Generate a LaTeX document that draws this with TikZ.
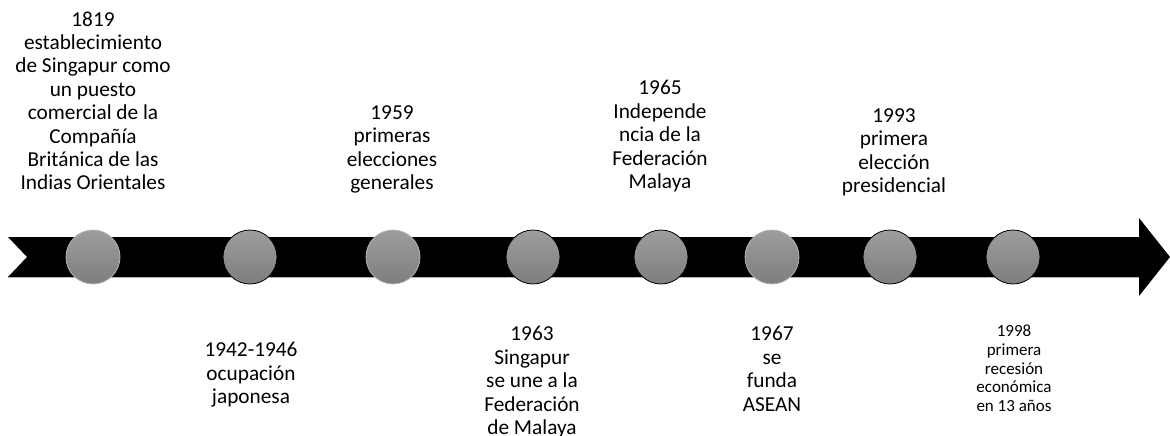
\documentclass[tikz,border=0pt]{standalone}
\usepackage{fontspec}
\setmainfont{Carlito}
\definecolor{ctop}{HTML}{9D9D9D}
\definecolor{cbot}{HTML}{7E7E7E}
\definecolor{rimlight}{HTML}{B4B4B4}
\tikzset{
  dot/.style={circle, minimum size=54pt, inner sep=0pt, top color=ctop, bottom color=cbot, line width=0.8pt},
  dotlight/.style={dot, draw=rimlight},
  dotdark/.style={dot, draw=black},
  lbl/.style={align=center, inner sep=0pt, anchor=north, font=\fontsize{21.3pt}{23.4pt}\selectfont},
  lblsmall/.style={align=center, inner sep=0pt, anchor=north, font=\fontsize{17pt}{18.8pt}\selectfont}
}
\begin{document}
\begin{tikzpicture}[x=1pt,y=-1pt]
\useasboundingbox (0,0) rectangle (1170,436);
% arrow band
\fill[black] (8,237) -- (1139,237) -- (1139,218) -- (1170,257) -- (1139,296) -- (1139,277) -- (8,277) -- (27,257) -- cycle;
\draw[rimlight, line width=0.6pt] (8,277.3) -- (1139,277.3);
% circles
\node[dotlight] (c1) at (93,257) {};
\node[dotdark]  (c2) at (250,257) {};
\node[dotlight] (c3) at (393,257) {};
\node[dotdark]  (c4) at (533,257) {};
\node[dotdark]  (c5) at (661,257) {};
\node[dotlight] (c6) at (772,257) {};
\node[dotdark]  (c7) at (890,257) {};
\node[dotdark]  (c8) at (1013,257) {};
% labels above
\node[lbl] (t1) at (93,11.4) {1819\\establecimiento\\de Singapur como\\un puesto\\comercial de la\\Compañía\\Británica de las\\Indias Orientales};
\node[lbl] (t3) at (392,105.4) {1959\\primeras\\elecciones\\generales};
\node[lbl] (t5) at (660,80.4) {1965\\Independe\\ncia de la\\Federación\\Malaya};
\node[lbl] (t7) at (894,108.4) {1993\\primera\\elección\\presidencial};
% labels below
\node[lbl] (t2) at (251,342.4) {1942-1946\\ocupación\\japonesa};
\node[lbl] (t4) at (532,326.4) {1963\\Singapur\\se une a la\\Federación\\de Malaya};
\node[lbl] (t6) at (772,326.4) {1967\\se\\funda\\ASEAN};
\node[lblsmall] (t8) at (1014,324.6) {1998\\primera\\recesión\\económica\\en 13 años};
\end{tikzpicture}
\end{document}
